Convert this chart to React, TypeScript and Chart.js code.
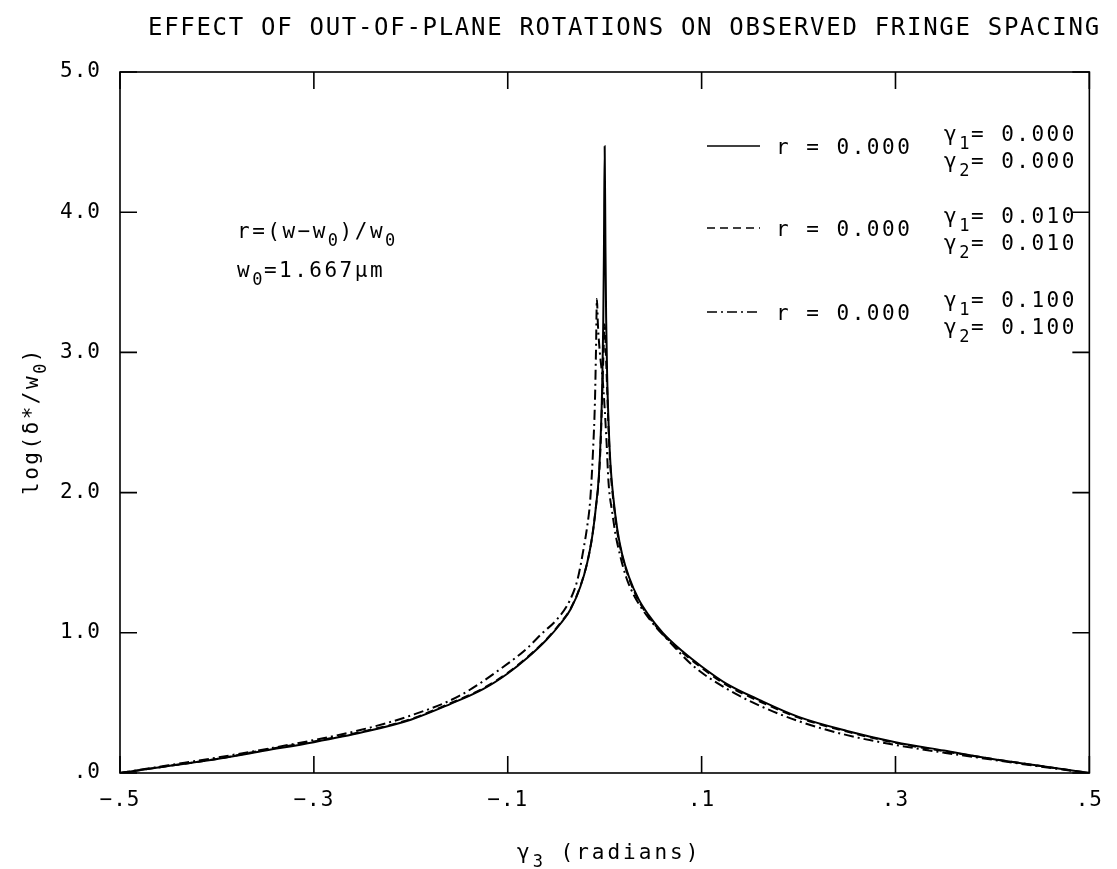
import React, { useEffect, useRef } from "react";
import { Chart, registerables } from "chart.js";

Chart.register(...registerables);

// ---- Data ----
const xTicks = [-0.5, -0.3, -0.1, 0.1, 0.3, 0.5];
const yTicks = [0, 1, 2, 3, 4, 5];

// gamma1 = gamma2 = 0.000 (solid)
const solidX = [
  -0.5, -0.45, -0.4, -0.35, -0.3, -0.25, -0.2, -0.16, -0.125, -0.1, -0.08, -0.06, -0.045, -0.035,
  -0.025, -0.018, -0.013, -0.009, -0.006, -0.004, -0.0025, -0.0015, -0.0008, 0,
  0.0008, 0.0015, 0.0025, 0.004, 0.006, 0.009, 0.013, 0.018, 0.025, 0.035, 0.045, 0.06, 0.08,
  0.1, 0.125, 0.16, 0.2, 0.25, 0.3, 0.35, 0.4, 0.45, 0.5,
];
const solidY = [
  0.0, 0.05, 0.1, 0.16, 0.22, 0.29, 0.38, 0.49, 0.6, 0.71, 0.82, 0.95, 1.07, 1.17,
  1.33, 1.5, 1.68, 1.9, 2.12, 2.42, 2.78, 3.2, 3.7, 4.47,
  3.75, 3.25, 2.85, 2.5, 2.2, 1.96, 1.74, 1.56, 1.4, 1.24, 1.13, 1.0, 0.87,
  0.76, 0.64, 0.52, 0.4, 0.3, 0.22, 0.16, 0.1, 0.05, 0.0,
];

// gamma1 = gamma2 = 0.010 (dashed)
const dashedX = [
  -0.5, -0.45, -0.4, -0.35, -0.3, -0.25, -0.2, -0.16, -0.125, -0.1, -0.08, -0.06, -0.045, -0.035,
  -0.025, -0.018, -0.013, -0.009, -0.006, -0.004, -0.0025, -0.0012, 0,
  0.0012, 0.0025, 0.004, 0.006, 0.009, 0.013, 0.018, 0.025, 0.035, 0.045, 0.06, 0.08,
  0.1, 0.125, 0.16, 0.2, 0.25, 0.3, 0.35, 0.4, 0.45, 0.5,
];
const dashedY = [
  0.0, 0.05, 0.1, 0.165, 0.225, 0.295, 0.385, 0.495, 0.605, 0.715, 0.825, 0.955, 1.075, 1.175,
  1.335, 1.5, 1.68, 1.9, 2.1, 2.38, 2.7, 3.0, 3.2,
  3.0, 2.75, 2.45, 2.17, 1.94, 1.72, 1.55, 1.39, 1.23, 1.12, 0.99, 0.86,
  0.75, 0.63, 0.51, 0.395, 0.295, 0.215, 0.155, 0.1, 0.05, 0.0,
];

// gamma1 = gamma2 = 0.100 (dash-dot)
const dashDotX = [
  -0.5, -0.45, -0.4, -0.35, -0.3, -0.25, -0.2, -0.15, -0.1, -0.08, -0.064, -0.05, -0.036, -0.028,
  -0.022, -0.018, -0.015, -0.012, -0.01, -0.009, -0.008,
  -0.007, -0.005, -0.002, 0, 0.002, 0.004, 0.008, 0.011, 0.016, 0.022, 0.03, 0.047, 0.065,
  0.092, 0.126, 0.16, 0.2, 0.25, 0.3, 0.35, 0.4, 0.45, 0.5,
];
const dashDotY = [
  0.0, 0.055, 0.11, 0.17, 0.235, 0.31, 0.41, 0.55, 0.78, 0.89, 1.0, 1.09, 1.23, 1.38,
  1.59, 1.76, 1.94, 2.3, 2.66, 3.0, 3.38,
  3.2, 3.0, 2.8, 2.6, 2.35, 2.07, 1.85, 1.71, 1.55, 1.4, 1.27, 1.09, 0.95,
  0.76, 0.6, 0.48, 0.37, 0.27, 0.2, 0.145, 0.095, 0.045, 0.0,
];

const legendR = ["0.000", "0.000", "0.000"];
const legendG1 = ["0.000", "0.010", "0.100"];
const legendG2 = ["0.000", "0.010", "0.100"];
const seriesDash: number[][] = [[], [8, 5], [10, 4, 2, 4]];

const titleText = "EFFECT OF OUT-OF-PLANE ROTATIONS ON OBSERVED FRINGE SPACING";

// ---- helpers ----
type Part = { t: string; sub?: boolean };
const FONT = '"DejaVu Sans Mono", monospace';

function partFont(p: Part, size: number) {
  return `${p.sub ? Math.round(size * 0.82) : size}px ${FONT}`;
}

function measureRich(ctx: CanvasRenderingContext2D, parts: Part[], size: number, sp: number) {
  let w = 0;
  for (const p of parts) {
    ctx.font = partFont(p, size);
    (ctx as any).letterSpacing = `${p.sub ? sp - 1 : sp}px`;
    w += ctx.measureText(p.t).width;
  }
  return w;
}

function drawRich(
  ctx: CanvasRenderingContext2D,
  parts: Part[],
  x: number,
  baseline: number,
  size: number,
  sp: number
) {
  ctx.textAlign = "left";
  ctx.textBaseline = "alphabetic";
  let cx = x;
  for (const p of parts) {
    ctx.font = partFont(p, size);
    (ctx as any).letterSpacing = `${p.sub ? sp - 1 : sp}px`;
    const y = p.sub ? baseline + size * 0.4 : baseline;
    ctx.fillText(p.t, cx, y);
    cx += ctx.measureText(p.t).width;
  }
  return cx;
}

const fmtX = (v: number) => {
  const s = Math.abs(v).toFixed(1).replace(/^0/, "");
  return (v < -1e-9 ? "−" : "") + s;
};
const fmtY = (v: number) => (Math.abs(v) < 1e-9 ? ".0" : v.toFixed(1));

const decorPlugin = {
  id: "decor",
  beforeDraw(chart: any) {
    const ctx = chart.ctx as CanvasRenderingContext2D;
    ctx.save();
    ctx.fillStyle = "#fff";
    ctx.fillRect(0, 0, chart.width, chart.height);
    ctx.restore();
    (ctx as any).letterSpacing = "1px";
  },
  afterDraw(chart: any) {
    const ctx = chart.ctx as CanvasRenderingContext2D;
    const { left, right, top, bottom } = chart.chartArea;
    const xs = chart.scales.x;
    const ys = chart.scales.y;
    ctx.save();
    ctx.strokeStyle = "#000";
    ctx.fillStyle = "#000";
    ctx.setLineDash([]);
    // frame
    ctx.lineWidth = 1.6;
    ctx.strokeRect(left, top, right - left, bottom - top);
    // inward ticks
    const tl = 17;
    ctx.beginPath();
    for (const v of xTicks) {
      const px = xs.getPixelForValue(v);
      ctx.moveTo(px, bottom);
      ctx.lineTo(px, bottom - tl);
      ctx.moveTo(px, top);
      ctx.lineTo(px, top + tl);
    }
    for (const v of yTicks) {
      const py = ys.getPixelForValue(v);
      ctx.moveTo(left, py);
      ctx.lineTo(left + tl, py);
      ctx.moveTo(right, py);
      ctx.lineTo(right - tl, py);
    }
    ctx.stroke();

    // title
    drawRich(ctx, [{ t: titleText }], 148, 35, 24, 1.7);

    // x axis title
    drawRich(ctx, [{ t: "γ" }, { t: "3", sub: true }, { t: " (radians)" }], 517, 859, 21, 3);

    // y axis title (rotated)
    const yParts: Part[] = [{ t: "log(δ*/w" }, { t: "0", sub: true }, { t: ")" }];
    const yw = measureRich(ctx, yParts, 21, 2.5);
    ctx.save();
    ctx.translate(38, 421);
    ctx.rotate(-Math.PI / 2);
    drawRich(ctx, yParts, -yw / 2, 0, 21, 2.5);
    ctx.restore();

    // annotations
    drawRich(
      ctx,
      [{ t: "r=(w−w" }, { t: "0", sub: true }, { t: ")/w" }, { t: "0", sub: true }],
      237,
      238,
      21,
      2.5
    );
    drawRich(ctx, [{ t: "w" }, { t: "0", sub: true }, { t: "=1.667μm" }], 237, 277, 21, 2.5);

    // legend
    const rowY = [146, 228, 312];
    for (let i = 0; i < 3; i++) {
      const cy = rowY[i];
      ctx.lineWidth = 1.6;
      ctx.setLineDash(seriesDash[i]);
      ctx.beginPath();
      ctx.moveTo(707, cy);
      ctx.lineTo(760, cy);
      ctx.stroke();
      ctx.setLineDash([]);
      drawRich(ctx, [{ t: "r = " + legendR[i] }], 776, cy + 8, 21, 2.5);
      drawRich(ctx, [{ t: "γ" }, { t: "1", sub: true }, { t: "= " + legendG1[i] }], 944, cy - 13 + 8, 21, 2.5);
      drawRich(ctx, [{ t: "γ" }, { t: "2", sub: true }, { t: "= " + legendG2[i] }], 944, cy + 14 + 8, 21, 2.5);
    }
    ctx.restore();
  },
};

function toPts(xs: number[], ys: number[]) {
  return xs.map((x, i) => ({ x, y: ys[i] }));
}

export default function App() {
  const ref = useRef<HTMLCanvasElement | null>(null);
  useEffect(() => {
    if (!ref.current) return;
    const common = {
      borderColor: "#000",
      borderWidth: 2,
      pointRadius: 0,
      fill: false,
      cubicInterpolationMode: "monotone" as const,
    };
    const chart = new Chart(ref.current, {
      type: "line",
      data: {
        datasets: [
          { ...common, label: "γ1=γ2=0.000", data: toPts(solidX, solidY), borderDash: seriesDash[0] },
          { ...common, label: "γ1=γ2=0.010", data: toPts(dashedX, dashedY), borderDash: seriesDash[1] },
          { ...common, label: "γ1=γ2=0.100", data: toPts(dashDotX, dashDotY), borderDash: seriesDash[2] },
        ],
      },
      options: {
        responsive: false,
        animation: false,
        events: [],
        layout: { padding: { top: 72, right: 17, left: 0, bottom: 0 } },
        plugins: {
          legend: { display: false },
          tooltip: { enabled: false },
          title: { display: false },
        },
        scales: {
          x: {
            type: "linear",
            min: -0.5,
            max: 0.5,
            afterFit: (s: any) => {
              s.height = 96;
            },
            afterBuildTicks: (s: any) => {
              s.ticks = xTicks.map((v) => ({ value: v }));
            },
            grid: { display: false, drawTicks: false },
            border: { display: false },
            ticks: {
              color: "#000",
              font: { family: FONT, size: 21 },
              padding: 15,
              maxRotation: 0,
              autoSkip: false,
              callback: (v: any) => fmtX(Number(v)),
            },
          },
          y: {
            type: "linear",
            min: 0,
            max: 5,
            afterFit: (s: any) => {
              s.width = 120;
            },
            afterBuildTicks: (s: any) => {
              s.ticks = yTicks.map((v) => ({ value: v }));
            },
            grid: { display: false, drawTicks: false },
            border: { display: false },
            ticks: {
              color: "#000",
              font: { family: FONT, size: 21 },
              padding: 19,
              autoSkip: false,
              callback: (v: any) => fmtY(Number(v)),
            },
          },
        },
      },
      plugins: [decorPlugin],
    });
    return () => chart.destroy();
  }, []);
  return (
    <div style={{ position: "absolute", left: 0, top: 0, width: 1117, height: 869, background: "#fff" }}>
      <canvas ref={ref} width={1117} height={869} style={{ display: "block" }} />
    </div>
  );
}
